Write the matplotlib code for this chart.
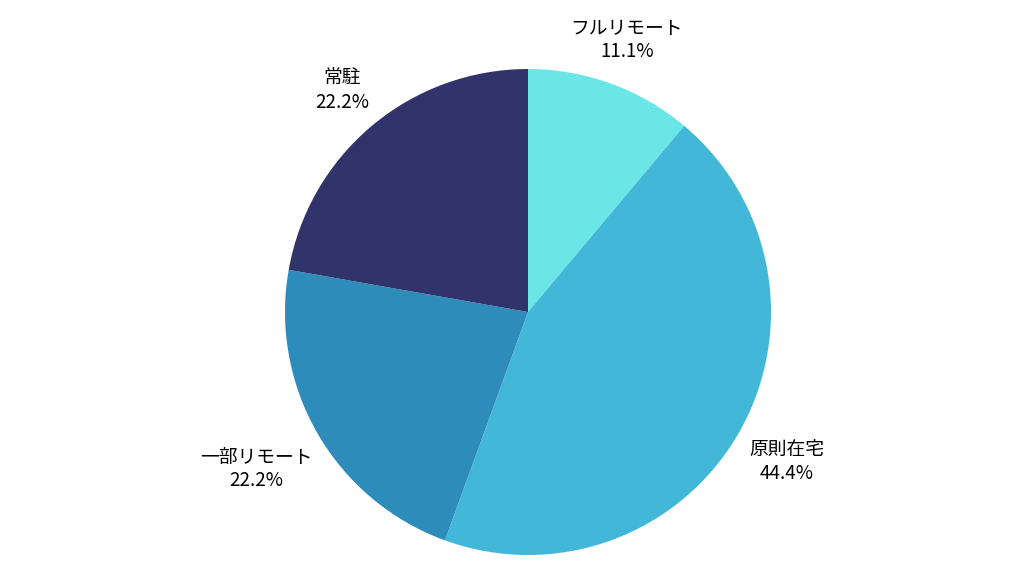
import numpy as np
import matplotlib
matplotlib.use('Agg')
import matplotlib.pyplot as plt

plt.rcParams['font.family'] = ['Noto Sans CJK JP', 'DejaVu Sans']

labels = ['フルリモート', '原則在宅', '一部リモート', '常駐']
values = [1, 4, 2, 2]
colors = ['#6ae6e7', '#43b7d7', '#2e8cba', '#30346b']

fig = plt.figure(figsize=(10.24, 5.76), dpi=100)
# pie centre ~ (528, 312) px, radius ~243 px
size = 2 * 243 / 576
ax = fig.add_axes([528 / 1024 - size * 576 / 1024 / 2, 1 - 312 / 576 - size / 2,
                   size * 576 / 1024, size])

wedges, _ = ax.pie(values, colors=colors, startangle=90, counterclock=False,
                   wedgeprops=dict(linewidth=0))
total = sum(values)
dists = [1.19, 1.23, 1.29, 1.19]
for w, name, v, d in zip(wedges, labels, values, dists):
    ang = np.deg2rad((w.theta1 + w.theta2) / 2)
    ax.text(d * np.cos(ang), d * np.sin(ang),
            '{}\n{:.1f}%'.format(name, v / total * 100),
            ha='center', va='center', fontsize=13.5, linespacing=1.15)
ax.set_xlim(-1, 1)
ax.set_ylim(-1, 1)
ax.set_aspect('equal')
ax.axis('off')

fig.savefig('out.png', dpi=100)
